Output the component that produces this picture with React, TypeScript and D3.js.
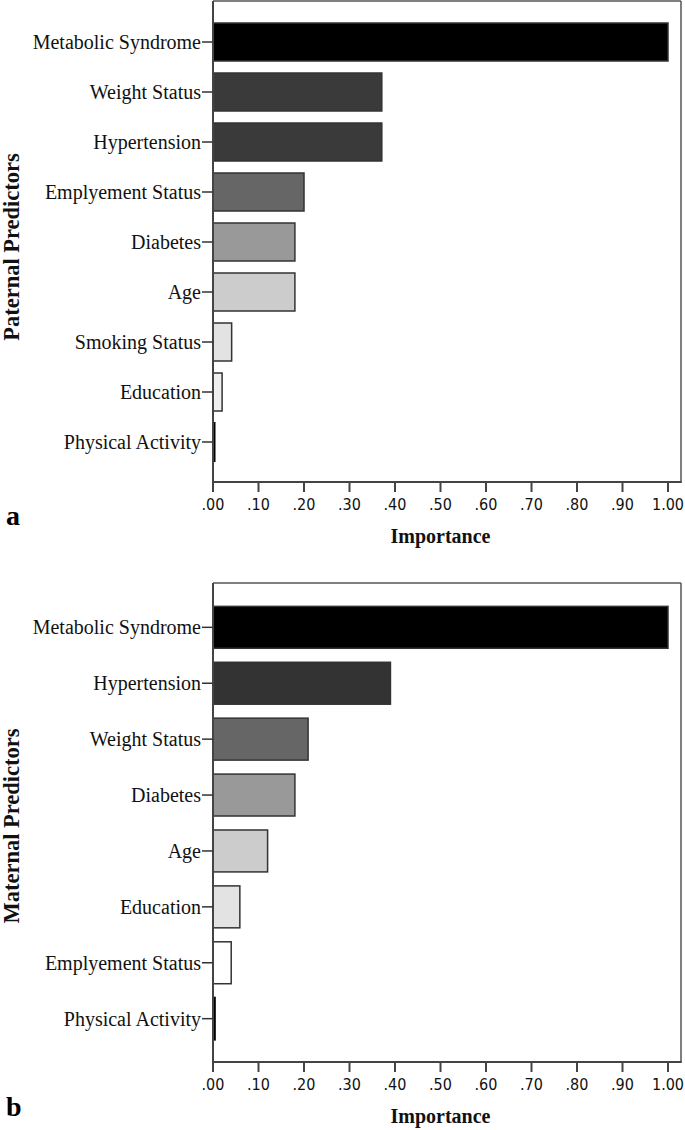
import React from "react";
import * as d3 from "d3";

const paternalCategories = ["Metabolic Syndrome", "Weight Status", "Hypertension", "Emplyement Status", "Diabetes", "Age", "Smoking Status", "Education", "Physical Activity"];
const paternalValues = [1.0, 0.371, 0.371, 0.2, 0.18, 0.18, 0.041, 0.02, 0.003];
const paternalColors = ["#000000", "#3a3a3a", "#3a3a3a", "#666666", "#999999", "#cccccc", "#e3e3e3", "#efefef", "#000000"];

const maternalCategories = ["Metabolic Syndrome", "Hypertension", "Weight Status", "Diabetes", "Age", "Education", "Emplyement Status", "Physical Activity"];
const maternalValues = [1.0, 0.39, 0.209, 0.18, 0.12, 0.059, 0.04, 0.004];
const maternalColors = ["#000000", "#333333", "#666666", "#999999", "#cccccc", "#e3e3e3", "#ffffff", "#000000"];

const xTicks = [0, 0.1, 0.2, 0.3, 0.4, 0.5, 0.6, 0.7, 0.8, 0.9, 1.0];
const fmtTick = (v: number) => (v >= 1 ? "1.00" : d3.format(".2f")(v).replace(/^0/, ""));

type PanelProps = {
  cats: string[];
  vals: number[];
  colors: string[];
  top: number;
  bottom: number;
  paddingOuter: number;
  paddingInner: number;
  yTitle: string;
  letter: string;
  letterY: number;
  yTitleCenter: number;
};

const LEFT = 213;
const RIGHT = 681;
const X1 = 668;

function Panel(p: PanelProps) {
  const x = d3.scaleLinear().domain([0, 1]).range([LEFT, X1]);
  const y = d3.scaleBand<string>().domain(p.cats).range([p.top + 1, p.bottom]).paddingInner(p.paddingInner).paddingOuter(p.paddingOuter);
  const serif = "'Liberation Serif', 'Times New Roman', serif";
  return (
    <g>
      <line x1={LEFT} x2={RIGHT} y1={p.top} y2={p.top} stroke="#555" strokeWidth={1.5} />
      <line x1={RIGHT} x2={RIGHT} y1={p.top} y2={p.bottom} stroke="#555" strokeWidth={1.5} />
      {p.cats.map((c, i) => {
        const w = x(p.vals[i]) - x(0);
        const tiny = w < 3;
        return (
          <rect
            key={c}
            x={x(0)}
            y={y(c)!}
            width={Math.max(w, 1.5)}
            height={y.bandwidth()}
            fill={p.colors[i]}
            stroke={tiny ? "#000" : "#333"}
            strokeWidth={tiny ? 2 : 1.5}
          />
        );
      })}
      <line x1={LEFT} x2={LEFT} y1={p.top} y2={p.bottom} stroke="#444" strokeWidth={2} />
      <line x1={LEFT - 1} x2={RIGHT + 0.75} y1={p.bottom} y2={p.bottom} stroke="#444" strokeWidth={2} />
      {p.cats.map((c) => {
        const cy = y(c)! + y.bandwidth() / 2;
        return (
          <g key={"t" + c}>
            <line x1={LEFT - 11} x2={LEFT} y1={cy} y2={cy} stroke="#333" strokeWidth={1.5} />
            <text x={LEFT - 12} y={cy} textAnchor="end" dominantBaseline="central" fontFamily={serif} fontSize={20} fill="#111">
              {c}
            </text>
          </g>
        );
      })}
      {xTicks.map((t) => (
        <g key={"x" + t}>
          <line x1={x(t)} x2={x(t)} y1={p.bottom} y2={p.bottom + 10} stroke="#444" strokeWidth={2} />
          <text x={x(t)} y={p.bottom + 28} textAnchor="middle" fontFamily="'DejaVu Sans Condensed', 'DejaVu Sans', sans-serif" fontSize={16} fill="#111">
            {fmtTick(t)}
          </text>
        </g>
      ))}
      <text x={(LEFT + X1) / 2} y={p.bottom + 61} textAnchor="middle" fontFamily={serif} fontWeight="bold" fontSize={20} fill="#111">
        Importance
      </text>
      <text x={6} y={p.letterY} fontFamily={serif} fontWeight="bold" fontSize={28} fill="#000">
        {p.letter}
      </text>
      <text
        transform={`translate(19,${p.yTitleCenter}) rotate(-90)`}
        textAnchor="middle"
        fontFamily={serif}
        fontWeight="bold"
        fontSize={22.5}
        fill="#111"
      >
        {p.yTitle}
      </text>
    </g>
  );
}

export default function App() {
  return (
    <svg width={685} height={1130} style={{ position: "absolute", left: 0, top: 0, background: "#fff" }}>
      <rect x={0} y={0} width={685} height={1130} fill="#fff" />
      <Panel
        cats={paternalCategories}
        vals={paternalValues}
        colors={paternalColors}
        top={1}
        bottom={482}
        paddingInner={0.24}
        paddingOuter={0.42}
        yTitle="Paternal Predictors"
        letter="a"
        letterY={525}
        yTitleCenter={247}
      />
      <Panel
        cats={maternalCategories}
        vals={maternalValues}
        colors={maternalColors}
        top={583}
        bottom={1062}
        paddingInner={0.25}
        paddingOuter={0.4}
        yTitle="Maternal Predictors"
        letter="b"
        letterY={1116}
        yTitleCenter={826}
      />
    </svg>
  );
}
